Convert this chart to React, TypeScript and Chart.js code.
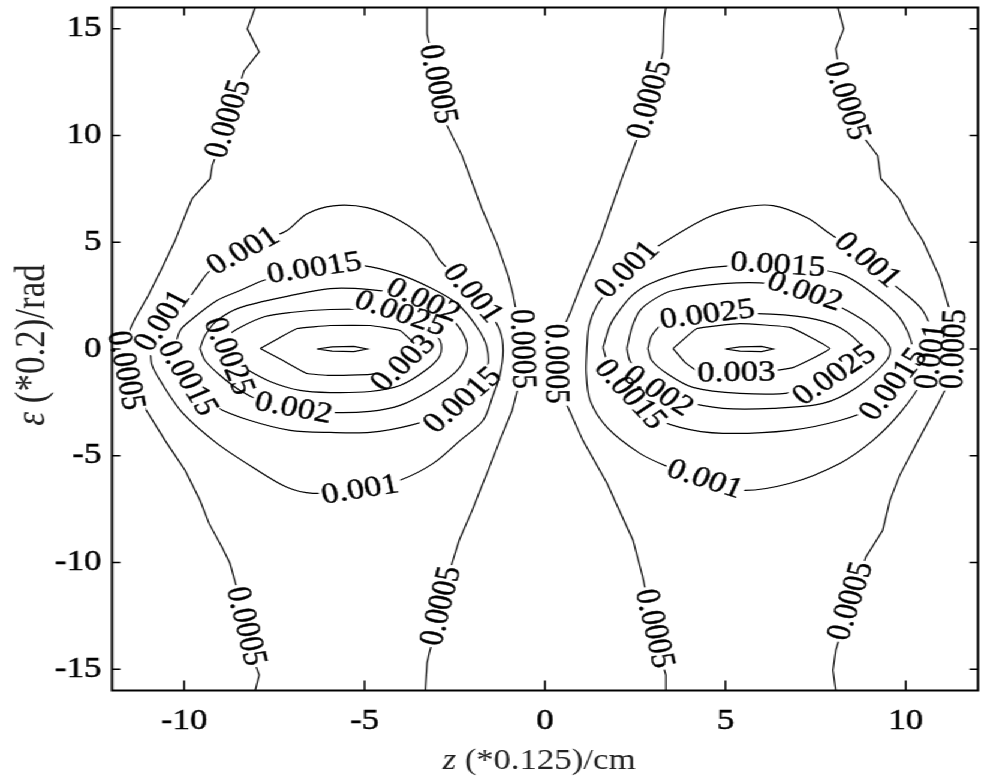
import React, { useEffect, useRef } from 'react';
import { Chart, registerables } from 'chart.js';

Chart.register(...registerables);

type Pt = [number, number];

// ---------- axes ----------
const xTicks = [-10, -5, 0, 5, 10];
const yTicks = [-15, -10, -5, 0, 5, 10, 15];
const xMin = -12, xMax = 12, yMin = -16, yMax = 16;
const xTitle = ['z', ' (*0.125)/cm'];
const yTitle = ['ε', ' (*0.2)/rad'];

// ---------- contour levels ----------
const levels = ['0.0005', '0.001', '0.0015', '0.002', '0.0025', '0.003', '0.0035'];

// ---------- level 0.0005 : four open lines (z, ε) ----------
const c0005A: Pt[] = [[-8.03,16],[-8.25,15.0],[-7.92,13.92],[-8.34,13.03],[-8.56,11.86],[-8.86,10.24],[-9.22,8.6],[-9.28,7.98],[-9.78,7.04],[-9.92,6.48],[-10.25,5.08],[-10.58,3.91],[-11.0,2.5],[-11.36,1.43],[-11.72,0.16],[-11.63,-1.1],[-11.22,-2.41],[-10.53,-4.28],[-9.97,-5.69],[-9.56,-7.09],[-9.31,-8.17],[-8.95,-9.29],[-8.73,-10.04],[-8.56,-11.07],[-8.34,-12.71],[-8.12,-14.34],[-7.92,-15.28],[-8.03,-16]];
const c0005B: Pt[] = [[-3.27,16],[-3.27,14.76],[-3.10,13.5],[-2.91,11.63],[-2.77,10.65],[-2.30,9.06],[-1.75,6.57],[-1.33,4.94],[-1.02,3.44],[-0.89,2.6],[-0.75,1.33],[-0.64,-0.07],[-0.69,-1.47],[-0.91,-2.88],[-1.25,-4.28],[-1.52,-5.45],[-1.80,-6.62],[-2.02,-7.56],[-2.38,-8.96],[-2.58,-10.04],[-2.77,-11.3],[-2.99,-12.94],[-3.21,-14.25],[-3.27,-14.72],[-3.32,-16]];
const c0005C: Pt[] = [[3.35,16],[3.30,15.47],[3.27,13.92],[3.05,12.33],[2.77,10.93],[2.52,9.71],[2.16,8.12],[1.83,6.57],[1.52,5.08],[1.05,3.21],[0.69,1.66],[0.36,0.4],[0.28,-0.77],[0.42,-1.94],[0.64,-2.74],[1.05,-4.28],[1.72,-6.29],[1.97,-7.23],[2.44,-8.96],[2.71,-10.69],[2.96,-12.7],[3.19,-14.34],[3.35,-15.28],[3.35,-16]];
const c0005D: Pt[] = [[8.12,16],[8.28,15.0],[8.06,14.06],[8.25,12.1],[8.59,10.46],[9.22,9.06],[9.31,7.98],[9.81,7.04],[10.11,6.01],[10.47,5.08],[10.94,3.35],[11.22,1.8],[11.36,0.16],[11.22,-1.47],[10.94,-2.41],[10.30,-4.42],[9.83,-5.92],[9.56,-7.09],[9.36,-8.49],[8.89,-9.76],[8.45,-12.0],[8.06,-14.11],[7.98,-15.05],[8.06,-16]];

// ---------- closed loops, left lobe ----------
const cL001: Pt[] = [[-10.94,0.02],[-10.72,1.1],[-10.44,1.57],[-10.03,2.04],[-9.67,2.83],[-9.28,3.67],[-8.45,4.5],[-7.62,5.2],[-7.15,5.55],[-6.59,6.34],[-5.87,6.71],[-4.93,6.62],[-4.02,6.01],[-3.27,5.08],[-2.91,4.14],[-2.22,2.97],[-1.58,1.8],[-1.25,0.87],[-1.16,-0.07],[-1.25,-1.24],[-1.44,-2.18],[-1.72,-3.35],[-2.35,-4.28],[-3.10,-5.36],[-4.02,-6.15],[-5.12,-6.62],[-6.43,-6.76],[-7.15,-6.48],[-8.09,-5.55],[-9.09,-4.42],[-10.03,-3.02],[-10.58,-1.71],[-10.89,-0.77]];
const cL0015: Pt[] = [[-10.25,0.16],[-10.11,0.87],[-9.83,1.33],[-9.09,2.27],[-8.45,2.74],[-7.81,3.21],[-6.79,3.67],[-5.82,3.91],[-5.04,3.91],[-4.10,3.53],[-3.19,2.88],[-2.44,2.13],[-1.88,1.01],[-1.61,0.07],[-1.61,-1.01],[-2.08,-2.18],[-2.77,-3.02],[-3.74,-3.58],[-4.85,-3.91],[-5.96,-3.91],[-7.06,-3.81],[-8.17,-3.35],[-9.09,-2.74],[-9.70,-1.94],[-10.11,-0.91]];
const cL002: Pt[] = [[-9.56,0.02],[-9.42,0.63],[-9.09,1.33],[-8.45,1.94],[-7.06,2.5],[-5.96,2.83],[-4.85,2.78],[-3.74,2.5],[-3.05,2.04],[-2.49,1.24],[-2.19,0.4],[-2.19,-0.3],[-2.49,-1.1],[-3.19,-1.94],[-4.02,-2.64],[-4.85,-2.92],[-5.96,-2.97],[-7.06,-2.78],[-7.89,-2.41],[-8.45,-1.94],[-9.0,-1.24],[-9.42,-0.54]];
const cL0025: Pt[] = [[-8.95,0.02],[-8.78,0.63],[-8.45,1.01],[-7.76,1.52],[-7.06,1.71],[-5.96,1.85],[-4.85,1.85],[-3.88,1.61],[-3.32,1.1],[-2.91,0.4],[-2.91,-0.3],[-3.32,-1.01],[-4.02,-1.71],[-4.85,-1.99],[-5.96,-2.04],[-6.79,-1.94],[-7.62,-1.52],[-8.31,-0.91],[-8.73,-0.44]];
const cL003: Pt[] = [[-7.89,0.02],[-7.34,0.54],[-6.87,0.96],[-5.96,1.1],[-4.85,1.1],[-4.02,0.87],[-3.52,0.02],[-4.02,-0.87],[-4.85,-1.19],[-5.96,-1.24],[-6.59,-1.15],[-7.26,-0.54]];
const cL0035: Pt[] = [[-6.32,0],[-5.9,0.1],[-5.3,0.12],[-4.93,0],[-5.3,-0.12],[-5.9,-0.1]];

// ---------- closed loops, right lobe ----------
const cR001: Pt[] = [[1.16,0.07],[1.22,1.1],[1.44,2.04],[1.86,2.97],[2.49,4.05],[3.38,5.08],[4.49,6.15],[5.40,6.62],[6.32,6.72],[7.26,6.15],[7.89,5.41],[8.78,4.38],[9.64,3.06],[10.47,1.8],[10.80,0.02],[10.47,-1.47],[9.83,-3.02],[9.09,-4.28],[8.17,-5.36],[6.79,-6.29],[5.40,-6.62],[4.29,-6.06],[3.38,-5.5],[2.63,-4.89],[1.72,-3.67],[1.25,-2.41],[1.14,-1.1]];
const cR0015: Pt[] = [[1.61,0.07],[1.80,1.1],[2.0,1.66],[2.41,2.5],[2.91,3.06],[4.02,3.67],[5.21,3.91],[6.51,3.91],[8.17,3.53],[9.09,2.6],[9.83,1.47],[10.19,0.07],[10.03,-0.87],[9.56,-1.94],[9.09,-2.74],[8.17,-3.35],[6.79,-3.81],[4.93,-3.95],[3.74,-3.67],[2.83,-3.02],[2.16,-1.8],[1.72,-0.54]];
const cR002: Pt[] = [[2.27,0.02],[2.41,1.01],[2.63,1.8],[3.05,2.36],[3.55,2.74],[4.93,3.06],[6.23,3.06],[7.34,2.6],[8.37,1.8],[9.09,1.01],[9.56,0.07],[9.47,-0.54],[8.64,-1.8],[7.70,-2.55],[6.32,-2.78],[4.93,-2.78],[3.74,-2.41],[3.05,-1.94],[2.63,-1.15],[2.35,-0.54]];
const cR0025: Pt[] = [[2.85,0.02],[2.96,0.63],[3.32,1.24],[4.02,1.57],[5.87,1.66],[7.26,1.47],[8.17,1.01],[8.81,0.07],[8.73,-0.4],[8.03,-1.24],[6.79,-2.04],[5.40,-2.08],[4.10,-1.8],[3.38,-1.15],[2.96,-0.54]];
const cR003: Pt[] = [[3.55,0.02],[4.21,0.96],[5.40,1.19],[6.79,1.01],[7.89,0.02],[6.87,-0.87],[5.68,-1.15],[4.29,-1.1],[3.88,-0.63]];
const cR0035: Pt[] = [[4.99,0],[5.4,0.1],[6.0,0.12],[6.32,0],[6.0,-0.12],[5.4,-0.1]];

// ---------- inline label anchors (z, ε) ----------
const lab0005A: Pt[] = [[-8.56,10.7],[-11.6,-1.0],[-8.34,-13.0]];
const lab0005B: Pt[] = [[-3.0,12.4],[-0.66,0.0],[-2.66,-12.1]];
const lab0005C: Pt[] = [[3.1,11.6],[0.3,-0.7],[3.02,-13.1]];
const lab0005D: Pt[] = [[8.3,11.6],[11.3,0.0],[8.7,-11.9]];
const labL001: Pt[] = [[-8.23,4.28],[-10.5,1.2],[-2.02,2.6],[-5.07,-6.9]];
const labL0015: Pt[] = [[-6.37,3.6],[-9.92,-1.38],[-2.27,-2.41]];
const labL002: Pt[] = [[-6.98,-2.85],[-3.4,2.2]];
const labL0025: Pt[] = [[-8.73,-0.3],[-4.02,1.6]];
const labL003: Pt[] = [[-3.9,-0.7]];
const labR001: Pt[] = [[2.44,3.53],[8.73,3.9],[4.38,-6.3],[10.8,-0.4]];
const labR0015: Pt[] = [[6.45,3.6],[9.83,-1.8],[2.2,-2.3]];
const labR002: Pt[] = [[3.05,-2.2],[7.2,2.7]];
const labR0025: Pt[] = [[4.5,1.6],[8.17,-1.5]];
const labR003: Pt[] = [[5.3,-1.15]];

type Contour = { level: string; pts: Pt[]; labels: Pt[]; closed: boolean; tension: number };
const contours: Contour[] = [
  { level: levels[0], pts: c0005A, labels: lab0005A, closed: false, tension: 0 },
  { level: levels[0], pts: c0005B, labels: lab0005B, closed: false, tension: 0 },
  { level: levels[0], pts: c0005C, labels: lab0005C, closed: false, tension: 0 },
  { level: levels[0], pts: c0005D, labels: lab0005D, closed: false, tension: 0 },
  { level: levels[1], pts: cL001, labels: labL001, closed: true, tension: 0.3 },
  { level: levels[2], pts: cL0015, labels: labL0015, closed: true, tension: 0.3 },
  { level: levels[3], pts: cL002, labels: labL002, closed: true, tension: 0.3 },
  { level: levels[4], pts: cL0025, labels: labL0025, closed: true, tension: 0.3 },
  { level: levels[5], pts: cL003, labels: labL003, closed: true, tension: 0.1 },
  { level: levels[6], pts: cL0035, labels: [], closed: true, tension: 0 },
  { level: levels[1], pts: cR001, labels: labR001, closed: true, tension: 0.3 },
  { level: levels[2], pts: cR0015, labels: labR0015, closed: true, tension: 0.3 },
  { level: levels[3], pts: cR002, labels: labR002, closed: true, tension: 0.3 },
  { level: levels[4], pts: cR0025, labels: labR0025, closed: true, tension: 0.3 },
  { level: levels[5], pts: cR003, labels: labR003, closed: true, tension: 0.1 },
  { level: levels[6], pts: cR0035, labels: [], closed: true, tension: 0 },
];

// ---------- layout (the picture is stretched horizontally) ----------
const W = 981, H = 783;
const INNER_W = 818;
const S = W / INNER_W;
const FONT = '"Liberation Serif", "Times New Roman", serif';
const TICK_SIZE = 29;
const LABEL_SIZE = 29;
const XTITLE_SIZE = 29;
const YTITLE_SIZE = 35;

type Lab = { x: number; y: number; ang: number; w: number; text: string };

function buildLabels(chart: any): Lab[][] {
  const xs = chart.scales.x, ys = chart.scales.y;
  const ctx = chart.ctx as CanvasRenderingContext2D;
  ctx.save();
  ctx.font = `${LABEL_SIZE}px ${FONT}`;
  const out = contours.map((c) => {
    const P = c.pts.map(([x, y]) => [xs.getPixelForValue(x), ys.getPixelForValue(y)]);
    if (c.closed) P.push(P[0]);
    const cum = [0];
    for (let i = 1; i < P.length; i++) cum.push(cum[i - 1] + Math.hypot(P[i][0] - P[i - 1][0], P[i][1] - P[i - 1][1]));
    const total = cum[cum.length - 1];
    const at = (s: number) => {
      if (c.closed) s = ((s % total) + total) % total; else s = Math.max(0, Math.min(total, s));
      for (let i = 1; i < P.length; i++) {
        if (cum[i] >= s) {
          const t = (s - cum[i - 1]) / ((cum[i] - cum[i - 1]) || 1);
          return [P[i - 1][0] + t * (P[i][0] - P[i - 1][0]), P[i - 1][1] + t * (P[i][1] - P[i - 1][1])];
        }
      }
      return P[P.length - 1];
    };
    return c.labels.map(([lx, ly]) => {
      const ax = xs.getPixelForValue(lx), ay = ys.getPixelForValue(ly);
      let best = Infinity, bs = 0, bq = [ax, ay];
      for (let i = 1; i < P.length; i++) {
        const [x1, y1] = P[i - 1], [x2, y2] = P[i];
        const dx = x2 - x1, dy = y2 - y1;
        const L2 = dx * dx + dy * dy || 1;
        let t = ((ax - x1) * dx + (ay - y1) * dy) / L2;
        t = Math.max(0, Math.min(1, t));
        const qx = x1 + t * dx, qy = y1 + t * dy;
        const d = Math.hypot(ax - qx, ay - qy);
        if (d < best) { best = d; bs = cum[i - 1] + t * Math.sqrt(L2); bq = [qx, qy]; }
      }
      const w = ctx.measureText(c.level).width;
      const a = at(bs - w / 2), b = at(bs + w / 2);
      let ang = Math.atan2(b[1] - a[1], b[0] - a[0]);
      if (ang > Math.PI / 2) ang -= Math.PI;
      if (ang <= -Math.PI / 2) ang += Math.PI;
      return { x: bq[0], y: bq[1], ang, w, text: c.level };
    });
  });
  ctx.restore();
  return out;
}

function drawMixed(ctx: CanvasRenderingContext2D, parts: string[], size: number, cx: number, cy: number) {
  ctx.font = `italic ${size}px ${FONT}`;
  const w0 = ctx.measureText(parts[0]).width;
  ctx.font = `${size}px ${FONT}`;
  const w1 = ctx.measureText(parts[1]).width;
  let x = cx - (w0 + w1) / 2;
  ctx.textAlign = 'left';
  ctx.textBaseline = 'middle';
  ctx.font = `italic ${size}px ${FONT}`;
  ctx.fillText(parts[0], x, cy);
  x += w0;
  ctx.font = `${size}px ${FONT}`;
  ctx.fillText(parts[1], x, cy);
}

const contourPlugin = {
  id: 'contourDecor',
  beforeDatasetsDraw(chart: any) {
    chart.$cl = buildLabels(chart);
  },
  beforeDatasetDraw(chart: any, args: any) {
    const labs: Lab[] = chart.$cl?.[args.index] || [];
    chart.$clipped = labs.length > 0;
    if (!labs.length) return;
    const ctx = chart.ctx as CanvasRenderingContext2D;
    ctx.save();
    ctx.beginPath();
    ctx.rect(0, 0, chart.width, chart.height);
    for (const l of labs) {
      const hw = l.w / 2 + 2, hh = LABEL_SIZE * 0.36;
      const c = Math.cos(l.ang), s = Math.sin(l.ang);
      const corners = [[-hw, -hh], [hw, -hh], [hw, hh], [-hw, hh]].map(([u, v]) => [l.x + u * c - v * s, l.y + u * s + v * c]);
      ctx.moveTo(corners[0][0], corners[0][1]);
      for (let k = 1; k < 4; k++) ctx.lineTo(corners[k][0], corners[k][1]);
      ctx.closePath();
    }
    ctx.clip('evenodd');
  },
  afterDatasetDraw(chart: any) {
    if (chart.$clipped) { chart.ctx.restore(); chart.$clipped = false; }
  },
  afterDatasetsDraw(chart: any) {
    const ctx = chart.ctx as CanvasRenderingContext2D;
    const all: Lab[][] = chart.$cl || [];
    ctx.save();
    ctx.fillStyle = '#000';
    ctx.strokeStyle = '#000';
    ctx.lineWidth = 0.4;
    ctx.font = `${LABEL_SIZE}px ${FONT}`;
    ctx.textAlign = 'center';
    ctx.textBaseline = 'middle';
    for (const labs of all) for (const l of labs) {
      ctx.save();
      ctx.translate(l.x, l.y);
      ctx.rotate(l.ang);
      ctx.fillText(l.text, 0, 0);
      ctx.strokeText(l.text, 0, 0);
      ctx.restore();
    }
    ctx.restore();
  },
  afterDraw(chart: any) {
    const ctx = chart.ctx as CanvasRenderingContext2D;
    const { left, right, top, bottom } = chart.chartArea;
    const xs = chart.scales.x, ys = chart.scales.y;
    ctx.save();
    ctx.strokeStyle = '#000';
    ctx.lineWidth = 1.5;
    ctx.beginPath();
    for (const v of xTicks) {
      const px = xs.getPixelForValue(v);
      ctx.moveTo(px, bottom); ctx.lineTo(px, bottom - 10);
      ctx.moveTo(px, top); ctx.lineTo(px, top + 8);
    }
    for (const v of yTicks) {
      const py = ys.getPixelForValue(v);
      ctx.moveTo(left, py); ctx.lineTo(left + 7, py);
      ctx.moveTo(right, py); ctx.lineTo(right - 7, py);
    }
    ctx.stroke();
    ctx.lineWidth = 2;
    ctx.strokeRect(left, top, right - left, bottom - top);
    ctx.fillStyle = '#222';
    drawMixed(ctx, xTitle, XTITLE_SIZE, (left + right) / 2 - 5, 761);
    ctx.save();
    ctx.translate(28, (top + bottom) / 2 - 4);
    ctx.rotate(-Math.PI / 2);
    drawMixed(ctx, yTitle, YTITLE_SIZE, 0, 0);
    ctx.restore();
    ctx.restore();
  },
};

export default function App() {
  const ref = useRef<HTMLCanvasElement>(null);
  useEffect(() => {
    const datasets = contours.map((c) => {
      const pts = c.closed ? [...c.pts, c.pts[0]] : c.pts;
      return {
        data: pts.map(([x, y]) => ({ x, y })),
        showLine: true,
        borderColor: '#000',
        borderWidth: 1.2,
        pointRadius: 0,
        pointHoverRadius: 0,
        tension: c.tension,
        fill: false,
      };
    });
    const tickFont = { family: FONT, size: TICK_SIZE };
    const chart = new Chart(ref.current as HTMLCanvasElement, {
      type: 'scatter',
      data: { datasets },
      options: {
        animation: false,
        responsive: true,
        maintainAspectRatio: false,
        events: [],
        layout: { padding: { top: 7.5, right: INNER_W - 978 / S, left: 0, bottom: 0 } },
        plugins: { legend: { display: false }, tooltip: { enabled: false } },
        scales: {
          x: {
            type: 'linear', min: xMin, max: xMax,
            afterBuildTicks: (s: any) => { s.ticks = xTicks.map((v) => ({ value: v })); },
            afterFit: (s: any) => { s.height = H - 690.5; s.paddingLeft = 0; s.paddingRight = 0; s.paddingTop = 0; s.paddingBottom = 0; },
            grid: { display: false, drawTicks: false },
            border: { display: false },
            ticks: { font: tickFont, color: '#000', padding: 13, maxRotation: 0, autoSkip: false, textStrokeColor: '#000', textStrokeWidth: 0.5 },
          },
          y: {
            type: 'linear', min: yMin, max: yMax,
            afterBuildTicks: (s: any) => { s.ticks = yTicks.map((v) => ({ value: v })); },
            afterFit: (s: any) => { s.width = 112 / S; s.paddingLeft = 0; s.paddingRight = 0; s.paddingTop = 0; s.paddingBottom = 0; },
            grid: { display: false, drawTicks: false },
            border: { display: false },
            ticks: { font: tickFont, color: '#000', padding: 9, autoSkip: false, textStrokeColor: '#000', textStrokeWidth: 0.5 },
          },
        },
      },
      plugins: [contourPlugin],
    } as any);
    return () => chart.destroy();
  }, []);
  return (
    <div style={{ position: 'fixed', left: 0, top: 0, width: INNER_W, height: H, transform: `scaleX(${S})`, transformOrigin: '0 0', background: '#fff' }}>
      <canvas ref={ref} />
    </div>
  );
}
